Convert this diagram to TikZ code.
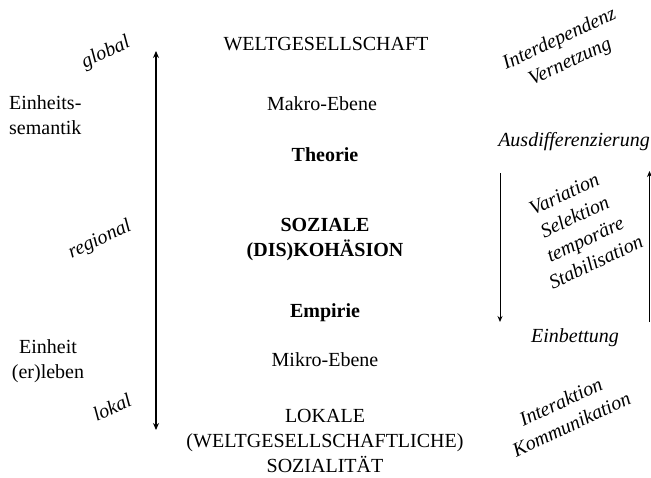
\documentclass[tikz,border=0pt]{standalone}
\usepackage{fontspec}
\setmainfont{Liberation Serif}
\usetikzlibrary{arrows.meta}
\begin{document}
\begin{tikzpicture}[x=1pt,y=-1pt,
  txt/.style={font=\fontsize{20}{25}\selectfont, inner sep=0pt, align=center},
  itl/.style={txt, font=\fontsize{20}{25}\selectfont\itshape},
  rot/.style={itl, rotate=25},
  bld/.style={txt, font=\fontsize{20}{25}\selectfont\bfseries},
  thickarrow/.style={line width=1.8pt, {Stealth[length=7pt,width=6pt]}-{Stealth[length=7pt,width=6pt]}},
  thinarrow/.style={line width=1pt, -{Stealth[length=6pt,width=5pt]}}]
\useasboundingbox (0,0) rectangle (651,477);
% left side
\node[rot] (global) at (106,53) {global};
\node[txt, anchor=west, align=left] (einsem) at (9,115) {Einheits-\\semantik};
\node[rot] (regional) at (100,240) {regional};
\node[txt] (einleb) at (48,361) {Einheit\\(er)leben};
\node[rot] (lokal) at (112,407) {lokal};
\coordinate (ltop) at (156,51);
\coordinate (lbot) at (156,430);
\draw[thickarrow] (ltop) -- (lbot);
% centre
\node[txt] (welt) at (326,44) {WELTGESELLSCHAFT};
\node[txt] (makro) at (322,104) {Makro-Ebene};
\node[bld] (theorie) at (325,155) {Theorie};
\node[bld] (soz) at (325,240) {SOZIALE\\(DIS)KOHÄSION};
\node[bld] (empirie) at (325,313) {Empirie};
\node[txt] (mikro) at (325,360) {Mikro-Ebene};
\node[txt] (lokale) at (325,440.5) {LOKALE\\(WELTGESELLSCHAFTLICHE)\\SOZIALITÄT};
% right side
\node[rot] (inter) at (565,51) {Interdependenz\\Vernetzung};
\node[itl] (ausd) at (574,142) {Ausdifferenzierung};
\node[rot] (var) at (580,228) {Variation\\Selektion\\temporäre\\Stabilisation};
\node[itl] (einb) at (575,338) {Einbettung};
\node[rot] (kom) at (566,413) {Interaktion\\Kommunikation};
\coordinate (dtop) at (500,173);
\coordinate (dbot) at (500,322);
\draw[thinarrow] (dtop) -- (dbot);
\coordinate (ubot) at (649.5,322);
\coordinate (utop) at (649.5,171);
\draw[thinarrow] (ubot) -- (utop);
\end{tikzpicture}
\end{document}
